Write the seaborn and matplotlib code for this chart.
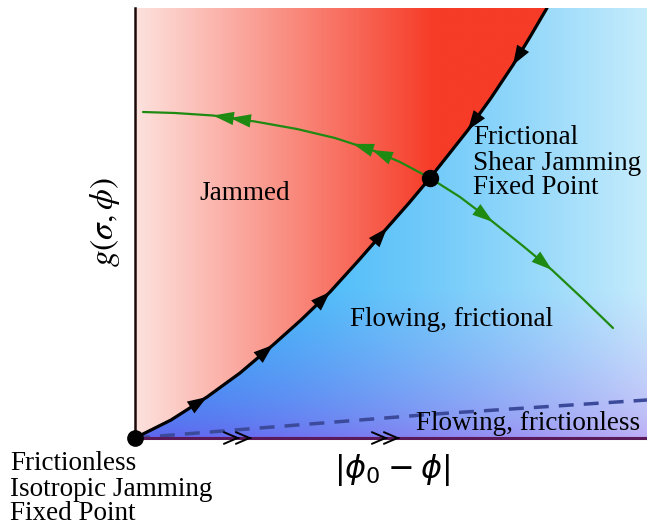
import matplotlib
matplotlib.use("Agg")
import matplotlib.pyplot as plt
from matplotlib.patches import Polygon
import seaborn as sns
import numpy as np

# boundary between jammed and flowing (schematic)
curve_x = [0, 36, 72, 105, 138, 166, 195, 224, 252, 274, 295, 314, 333, 356, 378, 395, 412]
curve_y = [0, 18, 41, 65, 93, 118, 146, 178, 210, 235, 260, 284, 308, 340, 373, 401, 430]

# green flow line through the shear jamming fixed point
flow_x = [8, 40, 78, 120, 162, 200, 237, 265, 295, 325, 358, 388, 417, 448, 478]
flow_y = [326, 325, 322.5, 316.5, 309, 300, 288, 276, 260, 241, 216, 192, 168, 139, 110]

# dashed frictionless crossover
dash_x = [0, 100, 300, 512]
dash_y = [0, 8, 24, 38]

fixed_point = (295, 260)
origin = (0, 0)

# arrow positions (apex x) along curves
black_up = [72, 138, 195, 252]
black_down = [333, 378]
green_left = [78, 95, 218, 237]
green_right = [358, 417]
bottom_chev = [105, 253]

XMAX, YMAX = 512, 430

sns.set_theme(style="white")
plt.rcParams["font.family"] = ["Liberation Serif", "DejaVu Sans"]
plt.rcParams["text.color"] = "black"

fig = plt.figure(figsize=(6.47, 5.28), dpi=100)
ax = fig.add_axes([135 / 647, 90 / 528, 512 / 647, 430 / 528])
ax.set_xlim(0, XMAX)
ax.set_ylim(0, YMAX)

# gradient images
W, H = 400, 300
gx = np.linspace(0, XMAX, W)
gy = np.linspace(0, YMAX, H)
GX, GY = np.meshgrid(gx, gy)

pink = np.array([0xfd, 0xe2, 0xde]) / 255
red = np.array([0xf6, 0x3b, 0x27]) / 255
f = np.clip(GX / 300, 0, 1)[..., None]
red_img = pink * (1 - f) + red * f

tl = np.array([0x30, 0xb0, 0xf8]) / 255
tr = np.array([0xc6, 0xec, 0xfc]) / 255
bl = np.array([0x62, 0x62, 0xee]) / 255
br = np.array([0xbc, 0xaa, 0xf6]) / 255
s = (np.clip(GX / XMAX, 0, 1) ** 1.5)[..., None]
t = (np.clip(GY / 150, 0, 1) ** 0.6)[..., None]
top = tl * (1 - s) + tr * s
bot = bl * (1 - s) + br * s
blue_img = bot * (1 - t) + top * t

pts = list(zip(curve_x, curve_y))
red_poly = Polygon(pts + [(0, YMAX)], closed=True, transform=ax.transData, fc="none", ec="none")
blue_poly = Polygon(pts + [(XMAX, YMAX), (XMAX, 0)], closed=True, transform=ax.transData, fc="none", ec="none")
ax.add_patch(red_poly)
ax.add_patch(blue_poly)
im1 = ax.imshow(red_img, extent=(0, XMAX, 0, YMAX), origin="lower", aspect="auto", zorder=0)
im1.set_clip_path(red_poly)
im2 = ax.imshow(blue_img, extent=(0, XMAX, 0, YMAX), origin="lower", aspect="auto", zorder=0)
im2.set_clip_path(blue_poly)

# curves
sns.lineplot(x=dash_x, y=dash_y, ax=ax, sort=False, estimator=None, color="#3c4a9c",
             lw=2.5, zorder=2)
ax.lines[-1].set_dashes((4.3, 2.9))
sns.lineplot(x=curve_x, y=curve_y, ax=ax, sort=False, estimator=None, color="black", lw=2.3, zorder=3)
sns.lineplot(x=flow_x, y=flow_y, ax=ax, sort=False, estimator=None, color="#1f8a12", lw=1.6, zorder=3)


def head(xs, ys, x0, sign, color, scale, style):
    y0 = np.interp(x0, xs, ys)
    xt = x0 - sign * 3
    yt = np.interp(xt, xs, ys)
    ax.annotate("", xy=(x0, y0), xytext=(xt, yt),
                arrowprops=dict(arrowstyle=style, color=color, lw=0,
                                mutation_scale=scale, shrinkA=0, shrinkB=0),
                zorder=4)


bstyle = "-|>,head_length=0.5,head_width=0.18"
gstyle = "-|>,head_length=0.5,head_width=0.16"
for x0 in black_up:
    head(curve_x, curve_y, x0, +1, "black", 28, bstyle)
for x0 in black_down:
    head(curve_x, curve_y, x0, -1, "black", 28, bstyle)
for x0 in green_left:
    head(flow_x, flow_y, x0, -1, "#1f8a12", 30, gstyle)
for x0 in green_right:
    head(flow_x, flow_y, x0, +1, "#1f8a12", 30, gstyle)
for x0 in bottom_chev:
    for dx in (0, 12):
        ax.annotate("", xy=(x0 + dx, 0), xytext=(x0 + dx - 2, 0),
                    arrowprops=dict(arrowstyle="->,head_length=0.7,head_width=0.3", color="black",
                                    lw=1.4, mutation_scale=14, shrinkA=0, shrinkB=0),
                    annotation_clip=False, zorder=4)

ax.plot(*fixed_point, "o", color="black", ms=11.5, zorder=5)
ax.plot(*origin, "o", color="black", ms=11, zorder=5, clip_on=False)

# spines
sns.despine(ax=ax, top=True, right=True)
ax.spines["left"].set_color("#1a0a0a")
ax.spines["left"].set_linewidth(1.8)
ax.spines["bottom"].set_color("#5a1a5a")
ax.spines["bottom"].set_linewidth(2.2)
ax.set_xticks([])
ax.set_yticks([])

fs = 19.5
ax.text(64, 245, "Jammed", fontsize=fs, ha="left", va="center")
ax.text(338, 275, "Frictional\nShear Jamming\nFixed Point", fontsize=fs, ha="left", va="center",
        linespacing=1.0)
ax.text(317, 118, "Flowing, frictional", fontsize=fs, ha="center", va="center")
ax.text(505, 14, "Flowing, frictionless", fontsize=fs, ha="right", va="center")
ax.text(-125, -51, "Frictionless\nIsotropic Jamming\nFixed Point", fontsize=fs, ha="left",
        va="center", linespacing=1.0, clip_on=False)
ax.text(257, -32, r"$|\phi_0 - \phi|$", fontsize=23, ha="center", va="center",
        math_fontfamily="dejavusans", clip_on=False)
ax.text(-30, 216, r"$g(\sigma,\phi)$", fontsize=24, ha="center", va="center", rotation=90,
        math_fontfamily="stix", clip_on=False)

fig.savefig("out.png", dpi=100)
